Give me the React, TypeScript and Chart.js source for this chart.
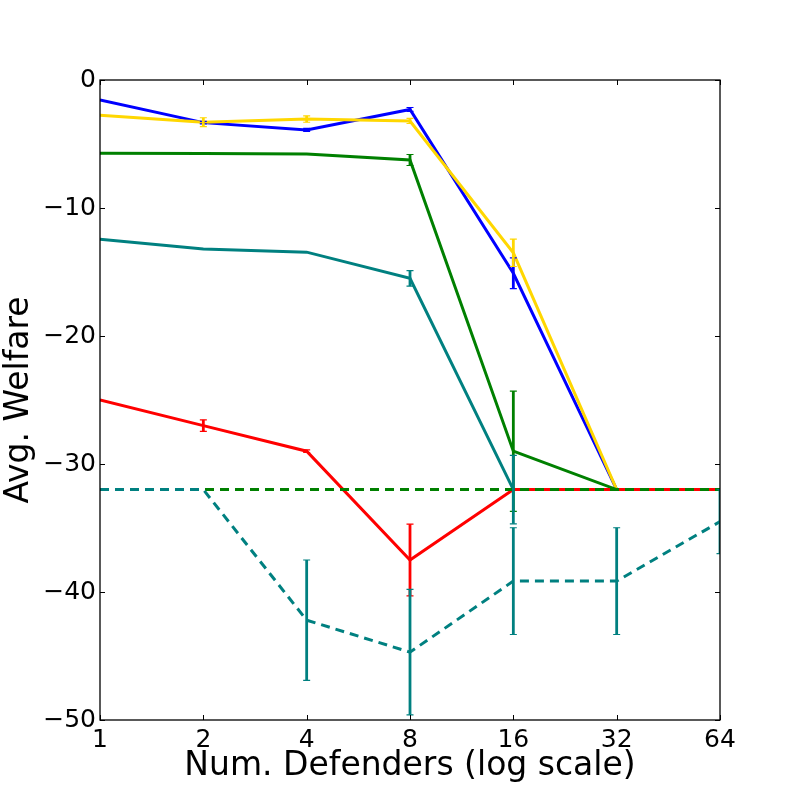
import { useEffect, useRef } from "react";
import { Chart, registerables } from "chart.js";

Chart.register(...registerables);

// x = number of defenders (log scale)
const defenders = [1, 2, 4, 8, 16, 32, 64];
const yTicks = [0, -10, -20, -30, -40, -50];

const blueVals = [-1.55, -3.33, -3.9, -2.3, -15.1, -32, -32];
const blueErr = [0, 0.1, 0.12, 0.15, 1.2, 0, 0];
const goldVals = [-2.75, -3.3, -3.05, -3.2, -13.5, -32, -32];
const goldErr = [0, 0.35, 0.25, 0.2, 1.07, 0, 0];
const greenVals = [-5.72, -5.75, -5.78, -6.25, -29.0, -32, -32];
const greenErr = [0, 0, 0, 0.43, 4.7, 0, 0];
const tealVals = [-12.45, -13.2, -13.45, -15.5, -32, -32, -32];
const tealErr = [0, 0, 0, 0.6, 2.67, 0, 0];
const redVals = [-25.0, -27.0, -29.0, -37.5, -32, -32, -32];
const redErr = [0, 0.45, 0.1, 2.8, 0, 0, 0];
const greenDashVals = [-32, -32, -32, -32, -32, -32, -32];
const greenDashErr = [0, 0, 0, 0, 0, 0, 0];
const tealDashVals = [-32, -32, -42.2, -44.7, -39.15, -39.15, -34.5];
const tealDashErr = [0, 0, 4.7, 4.9, 4.17, 4.17, 2.5];

const FONT = "'DejaVu Sans', sans-serif";

// error bars + inward ticks + frame, matplotlib style
const mplPlugin = {
  id: "mplExtras",
  afterDatasetsDraw(chart: any) {
    const { ctx, chartArea, scales } = chart;
    const xs = scales.x;
    const ys = scales.y;
    ctx.save();
    ctx.beginPath();
    ctx.rect(chartArea.left, chartArea.top, chartArea.right - chartArea.left, chartArea.bottom - chartArea.top);
    ctx.clip();
    const n = chart.data.datasets.length;
    for (let i = 0; i < n; i++) {
      const ds: any = chart.data.datasets[i];
      const errs: number[] = ds.errors || [];
      ctx.strokeStyle = ds.borderColor;
      ds.data.forEach((p: any, j: number) => {
        const e = errs[j];
        if (!e) return;
        const px = xs.getPixelForValue(p.x);
        const top = ys.getPixelForValue(p.y + e);
        const bot = ys.getPixelForValue(p.y - e);
        ctx.lineWidth = 2.8;
        ctx.beginPath();
        ctx.moveTo(px, top);
        ctx.lineTo(px, bot);
        ctx.stroke();
        ctx.lineWidth = 1.2;
        ctx.beginPath();
        ctx.moveTo(px - 3.5, top);
        ctx.lineTo(px + 3.5, top);
        ctx.moveTo(px - 3.5, bot);
        ctx.lineTo(px + 3.5, bot);
        ctx.stroke();
      });
    }
    ctx.restore();

    ctx.save();
    ctx.strokeStyle = "#000";
    ctx.lineWidth = 1;
    const tl = 5;
    xs.ticks.forEach((t: any) => {
      const px = Math.round(xs.getPixelForValue(t.value)) + 0.5;
      ctx.beginPath();
      ctx.moveTo(px, chartArea.bottom);
      ctx.lineTo(px, chartArea.bottom - tl);
      ctx.moveTo(px, chartArea.top);
      ctx.lineTo(px, chartArea.top + tl);
      ctx.stroke();
    });
    ys.ticks.forEach((t: any) => {
      const py = Math.round(ys.getPixelForValue(t.value)) + 0.5;
      ctx.beginPath();
      ctx.moveTo(chartArea.left, py);
      ctx.lineTo(chartArea.left + tl, py);
      ctx.moveTo(chartArea.right, py);
      ctx.lineTo(chartArea.right - tl, py);
      ctx.stroke();
    });
    ctx.lineWidth = 1.3;
    ctx.strokeRect(chartArea.left, chartArea.top, chartArea.right - chartArea.left, chartArea.bottom - chartArea.top);
    ctx.restore();
  },
};

function series(vals: number[], errs: number[], color: string, dashed: boolean) {
  return {
    data: defenders.map((x, i) => ({ x, y: vals[i] })),
    errors: errs,
    borderColor: color,
    backgroundColor: color,
    borderWidth: 3,
    borderDash: dashed ? [9, 6] : [],
    pointRadius: 0,
    tension: 0,
    fill: false,
  };
}

function WelfareChart() {
  const canvasRef = useRef<HTMLCanvasElement>(null);
  const chartRef = useRef<Chart | null>(null);

  useEffect(() => {
    if (!canvasRef.current) return;
    if (chartRef.current) chartRef.current.destroy();

    // plotting order (later = on top)
    const list = [
      series(blueVals, blueErr, "#0000ff", false),
      series(goldVals, goldErr, "#ffd700", false),
      series(greenVals, greenErr, "#008000", false),
      series(tealVals, tealErr, "#008080", false),
      series(redVals, redErr, "#ff0000", false),
      series(greenDashVals, greenDashErr, "#008000", true),
      series(tealDashVals, tealDashErr, "#008080", true),
    ];
    const datasets = list.map((d, i) => ({ ...d, order: list.length - i }));

    chartRef.current = new Chart(canvasRef.current, {
      type: "line",
      data: { datasets: datasets as any },
      options: {
        responsive: false,
        animation: false,
        layout: { padding: { top: 80, right: 80, left: 0, bottom: 0 } },
        plugins: {
          legend: { display: false },
          tooltip: { enabled: false },
        },
        scales: {
          x: {
            type: "logarithmic",
            min: 1,
            max: 64,
            grid: { display: false, drawTicks: false },
            border: { display: false },
            afterBuildTicks: (scale: any) => {
              scale.ticks = defenders.map((v) => ({ value: v }));
            },
            afterFit: (scale: any) => {
              scale.height = 80;
            },
            ticks: {
              autoSkip: false,
              maxRotation: 0,
              padding: 5,
              color: "#000",
              font: { family: FONT, size: 25 },
              callback: (v: any) => String(v),
            },
            title: {
              display: true,
              text: "Num. Defenders (log scale)",
              color: "#000",
              font: { family: FONT, size: 33 },
              padding: { top: 0, bottom: 14 },
            },
          },
          y: {
            min: -50,
            max: 0,
            grid: { display: false, drawTicks: false },
            border: { display: false },
            afterBuildTicks: (scale: any) => {
              scale.ticks = yTicks.map((v) => ({ value: v }));
            },
            afterFit: (scale: any) => {
              scale.width = 100;
            },
            ticks: {
              padding: 4,
              color: "#000",
              font: { family: FONT, size: 25 },
              callback: (v: any) => String(v).replace("-", "\u2212"),
            },
            title: {
              display: true,
              text: "Avg. Welfare",
              color: "#000",
              font: { family: FONT, size: 33 },
              padding: { top: 0, bottom: 0 },
            },
          },
        },
      },
      plugins: [mplPlugin],
    });

    return () => {
      if (chartRef.current) {
        chartRef.current.destroy();
        chartRef.current = null;
      }
    };
  }, []);

  return (
    <div style={{ position: "absolute", left: 0, top: 0, width: 800, height: 800, background: "#fff" }}>
      <canvas ref={canvasRef} width={800} height={800} />
    </div>
  );
}

export default function App() {
  return <WelfareChart />;
}
